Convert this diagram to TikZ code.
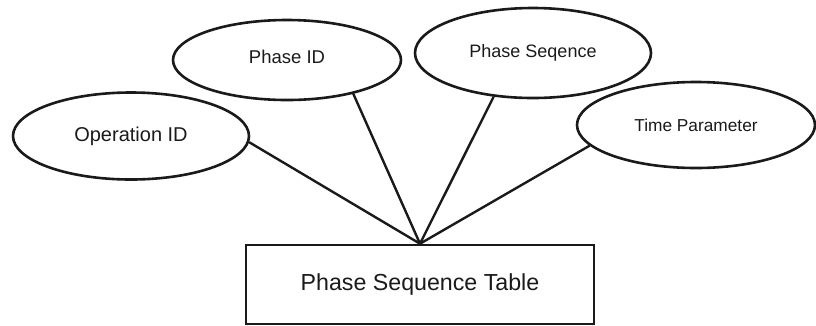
\documentclass[tikz,border=0pt]{standalone}
\usepackage{fontspec}
\setmainfont{Liberation Sans}
\usetikzlibrary{shapes.geometric}
\definecolor{ink}{HTML}{1A1A1A}
\tikzset{
  attr/.style={ellipse, draw=ink, line width=2.6pt, inner sep=0pt, text=ink},
  entity/.style={rectangle, draw=ink, line width=2.6pt, inner sep=0pt, text=ink,
    minimum width=348pt, minimum height=79pt},
  link/.style={draw=ink, line width=2.4pt}
}
\newcommand{\fsz}[1]{\fontsize{#1}{#1}\selectfont}
\begin{document}
\begin{tikzpicture}[x=1pt, y=-1pt]
  \useasboundingbox (0,0) rectangle (816,325);

  % attribute ellipses
  \node[attr, minimum width=236pt, minimum height=87pt] (op)  at (131,136) {\fsz{20}Operation ID};
  \node[attr, minimum width=228pt, minimum height=80pt] (pid) at (287,60)  {\raisebox{7pt}{\fsz{18.5}Phase ID}};
  \node[attr, minimum width=236pt, minimum height=90pt] (pseq) at (533,53) {\raisebox{3pt}{\fsz{18}Phase Seqence}};
  \node[attr, minimum width=238pt, minimum height=86pt] (tp)  at (696,125) {\fsz{17.3}Time Parameter};

  % entity box
  \node[entity] (tab) at (420,284.5) {\raisebox{3pt}{\fsz{23.2}Phase Sequence Table}};

  % attribute links meeting at the top of the box
  \draw[link] (op.-3)    -- (tab.north);
  \draw[link] (pid.-27)  -- (tab.north);
  \draw[link] (pseq.-132) -- (tab.north);
  \draw[link] (tp.-169)  -- (tab.north);
\end{tikzpicture}
\end{document}
